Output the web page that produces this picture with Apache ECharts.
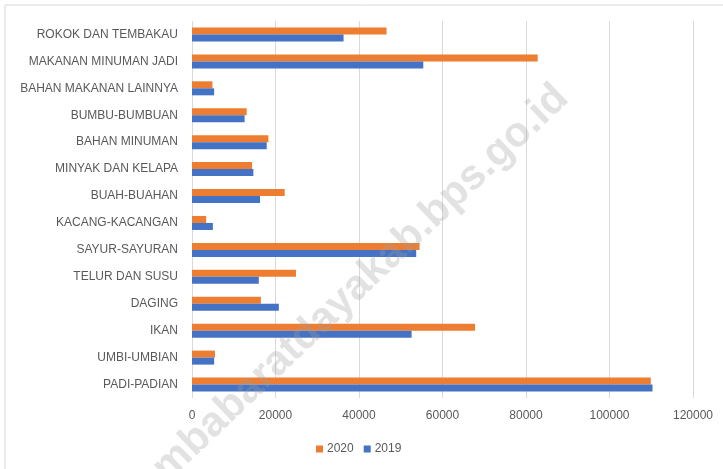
<!DOCTYPE html>
<html>
<head>
<meta charset="utf-8">
<script src="https://cdn.jsdelivr.net/npm/echarts@6/dist/echarts.min.js"></script>
<style>
  html, body { margin: 0; padding: 0; background: #fff; }
  #chart { width: 723px; height: 469px; }
</style>
</head>
<body>
<div id="chart"></div>
<script>
// kategori dari bawah ke atas
const categories = [
  'PADI-PADIAN', 'UMBI-UMBIAN', 'IKAN', 'DAGING', 'TELUR DAN SUSU',
  'SAYUR-SAYURAN', 'KACANG-KACANGAN', 'BUAH-BUAHAN', 'MINYAK DAN KELAPA',
  'BAHAN MINUMAN', 'BUMBU-BUMBUAN', 'BAHAN MAKANAN LAINNYA',
  'MAKANAN MINUMAN JADI', 'ROKOK DAN TEMBAKAU'
]
const values2020 = [109900, 5500, 67800, 16500, 24900, 54500, 3400, 22200, 14400, 18300, 13100, 4900, 82800, 46600]
const values2019 = [110300, 5300, 52600, 20800, 16000, 53700, 5000, 16300, 14700, 17900, 12600, 5300, 55400, 36300]
const xTicks = [0, 20000, 40000, 60000, 80000, 100000, 120000]

const textColor = '#595959'
const font = 'Liberation Sans'

const chart = echarts.init(document.getElementById('chart'))
chart.setOption({
  animation: false,
  backgroundColor: '#fff',
  color: ['#ED7D31', '#4472C4'],
  grid: { left: 192, right: 30, top: 21, bottom: 71, containLabel: false },
  legend: {
    data: ['2020', '2019'],
    left: 311,
    top: 438,
    itemWidth: 7,
    itemHeight: 7,
    itemGap: 10,
    icon: 'rect',
    textStyle: { color: textColor, fontSize: 12, fontFamily: font, padding: [0, 0, 0, -1] }
  },
  xAxis: {
    type: 'value',
    min: xTicks[0],
    max: xTicks[xTicks.length - 1],
    interval: 20000,
    axisLine: { show: false },
    axisTick: { show: false },
    axisLabel: { color: textColor, fontSize: 12, fontFamily: font, margin: 12, formatter: v => String(v) },
    splitLine: { lineStyle: { color: '#d9d9d9' } }
  },
  yAxis: {
    type: 'category',
    data: categories,
    axisLine: { show: false },
    axisTick: { show: false },
    axisLabel: { color: textColor, fontSize: 12, fontFamily: font, margin: 14 }
  },
  series: [
    { name: '2020', type: 'bar', data: values2020, barWidth: 7, barGap: '0%' },
    { name: '2019', type: 'bar', data: values2019, barWidth: 7, barGap: '0%' }
  ],
  graphic: [
    {
      type: 'rect',
      shape: { x: 5, y: 5, width: 760, height: 500 },
      style: { fill: 'none', stroke: '#d9d9d9', lineWidth: 1 },
      silent: true,
      z: -10
    },
    {
      type: 'text',
      x: 562,
      y: 92,
      rotation: 0.76,
      z: 100,
      silent: true,
      style: {
        text: 'sumbabaratdayakab.bps.go.id',
        fill: 'rgba(160,160,160,0.3)',
        font: 'bold 42px "Liberation Sans"',
        textAlign: 'right',
        textVerticalAlign: 'middle'
      }
    }
  ]
})
</script>
</body>
</html>
